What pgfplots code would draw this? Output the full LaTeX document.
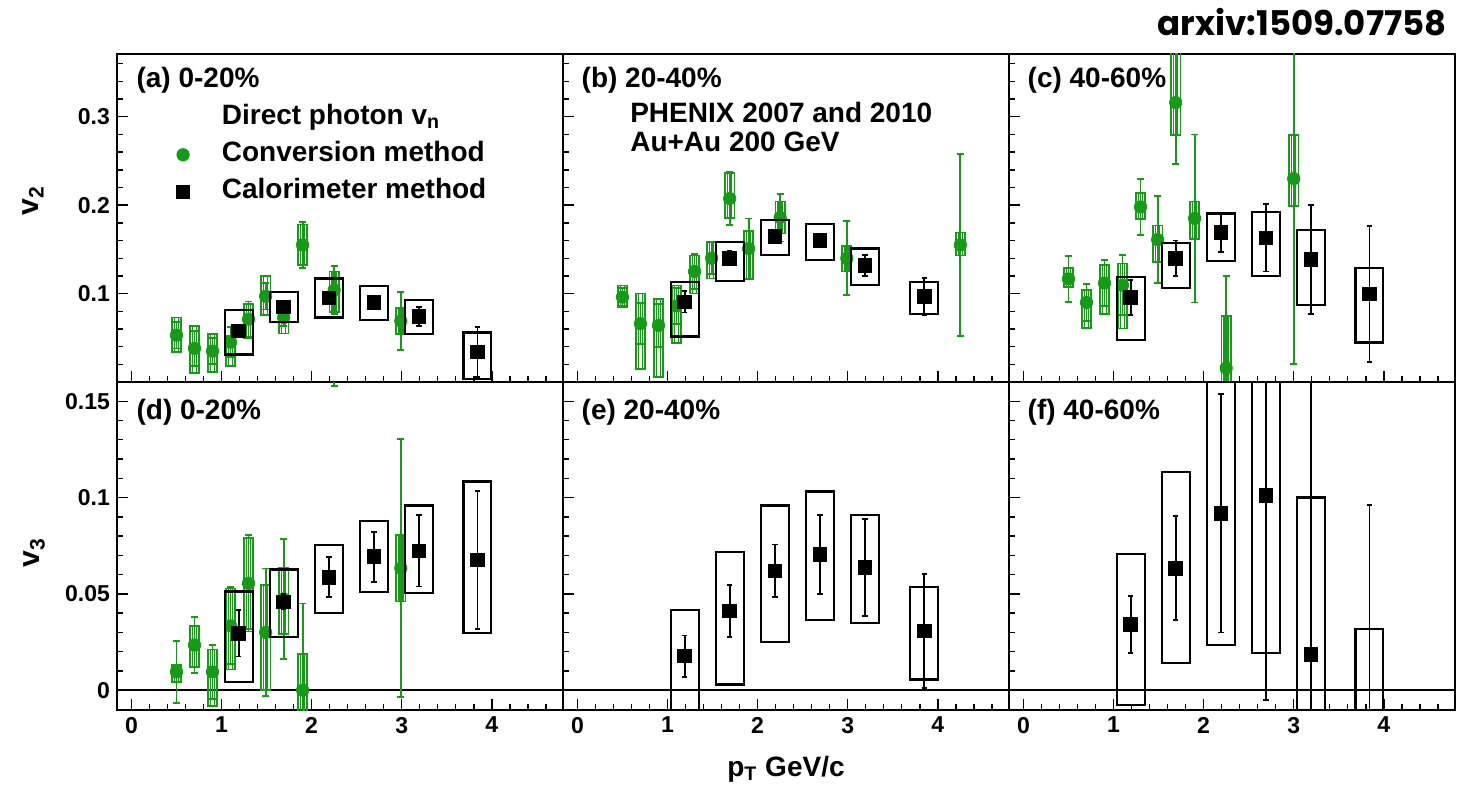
\documentclass[border=0pt]{standalone}
\usepackage{fontspec}
\setmainfont{Liberation Sans}
\newfontfamily\arxfont{Poppins}
\usepackage{pgfplots}
\usepackage{pgfplotstable}
\usepgfplotslibrary{groupplots}
\pgfplotsset{compat=1.18}

\definecolor{cgreen}{RGB}{22,155,22}
\newcommand{\lab}{\fontsize{14}{16}\selectfont\bfseries}

% columns: pT, value, stat error, sys error up, sys error down
\pgfplotstableread{
x y e sp sm
0.50 0.053 0.015 0.020 0.019
0.70 0.038 0.020 0.025 0.028
0.90 0.035 0.015 0.019 0.024
1.10 0.045 0.017 0.007 0.027
1.30 0.071 0.020 0.017 0.021
1.49 0.097 0.015 0.023 0.021
1.69 0.073 0.010 0.009 0.018
1.90 0.155 0.026 0.023 0.023
2.25 0.104 0.027 0.021 0.025
2.99 0.069 0.033 0.015 0.015
}\convA
\pgfplotstableread{
x y e sp sm
1.19 0.058 0.005 0.023 0.027
1.69 0.085 0.005 0.017 0.017
2.19 0.095 0.005 0.022 0.022
2.69 0.090 0.004 0.019 0.020
3.19 0.074 0.011 0.019 0.020
3.84 0.034 0.028 0.022 0.031
}\caloA
\pgfplotstableread{
x y e sp sm
0.50 0.096 0.010 0.013 0.011
0.70 0.066 0.023 0.034 0.051
0.90 0.064 0.024 0.030 0.058
1.10 0.086 0.020 0.023 0.042
1.30 0.125 0.020 0.018 0.025
1.49 0.140 0.018 0.018 0.023
1.69 0.2075 0.030 0.029 0.022
1.90 0.151 0.034 0.020 0.035
2.25 0.186 0.027 0.018 0.018
2.99 0.140 0.042 0.014 0.015
4.25 0.155 0.103 0.014 0.012
}\convB
\pgfplotstableread{
x y e sp sm
1.19 0.0905 0.012 0.023 0.039
1.69 0.140 0.008 0.018 0.026
2.19 0.165 0.005 0.018 0.021
2.69 0.160 0.004 0.019 0.022
3.19 0.132 0.012 0.019 0.022
3.85 0.097 0.021 0.016 0.020
}\caloB
\pgfplotstableread{
x y e sp sm
0.50 0.1166 0.026 0.0125 0.009
0.70 0.090 0.021 0.014 0.029
0.90 0.112 0.026 0.020 0.035
1.10 0.1094 0.034 0.0245 0.049
1.30 0.198 0.032 0.016 0.014
1.49 0.161 0.049 0.016 0.025
1.69 0.316 0.069 0.060 0.037
1.90 0.185 0.095 0.019 0.023
2.25 0.0158 0.104 0.0585 0.023
3.00 0.230 0.210 0.049 0.031
}\convC
\pgfplotstableread{
x y e sp sm
1.19 0.0958 0.020 0.023 0.048
1.69 0.140 0.020 0.017 0.034
2.19 0.169 0.022 0.0215 0.032
2.69 0.163 0.038 0.029 0.043
3.19 0.1385 0.062 0.033 0.051
3.84 0.0996 0.077 0.029 0.055
}\caloC
\pgfplotstableread{
x y e sp sm
0.50 0.0095 0.016 0.0035 0.0052
0.70 0.0234 0.0144 0.010 0.0113
0.90 0.0095 0.014 0.0116 0.0178
1.10 0.0334 0.020 0.0194 0.0227
1.30 0.0555 0.025 0.0234 0.0237
1.49 0.030 0.0332 0.0246 0.030
1.69 0.0473 0.031 0.0163 0.018
1.90 0.0 0.045 0.0187 0.020
2.25 0.25 0.092 0.02 0.02
2.99 0.0633 0.067 0.0173 0.0173
}\convD
\pgfplotstableread{
x y e sp sm
1.19 0.0295 0.012 0.0217 0.0254
1.69 0.0459 0.004 0.0168 0.0182
2.19 0.0586 0.0104 0.0168 0.0184
2.69 0.0693 0.013 0.0185 0.0182
3.19 0.0723 0.0185 0.0236 0.0220
3.84 0.0676 0.0357 0.0407 0.0381
}\caloD
\pgfplotstableread{
x y e sp sm
1.19 0.0177 0.0107 0.024 0.032
1.69 0.0412 0.0134 0.0307 0.0383
2.19 0.0619 0.0137 0.034 0.0367
2.69 0.0705 0.0204 0.0326 0.0341
3.19 0.0636 0.0251 0.0274 0.0286
3.85 0.0308 0.0297 0.0229 0.0253
}\caloE
\pgfplotstableread{
x y e sp sm
1.19 0.0341 0.0147 0.0366 0.0419
1.69 0.0633 0.027 0.0499 0.0494
2.19 0.0919 0.062 0.0685 0.0685
2.69 0.101 0.106 0.080 0.0815
3.19 0.0185 0.200 0.0815 0.040
3.84 -0.030 0.126 0.0617 0.060
}\caloF

% vertical sides of the systematic boxes (#1 table, #2 x offset, #3 colour, #4 width)
\newcommand{\vside}[4]{%
  \addplot[draw=none, mark=none, forget plot,
    error bars/.cd, y dir=both, y explicit, error mark=none,
    error bar style={draw=#3, line width=#4, line cap=rect}]
    table[x expr=\thisrow{x}+#2, y=y, y error plus=sp, y error minus=sm] {#1};}
\newcommand{\hside}[5]{%
  \addplot[draw=none, mark=none, forget plot,
    error bars/.cd, x dir=both, x fixed=#2, error mark=none,
    error bar style={draw=#3, line width=#4, line cap=rect}]
    table[x=x, y expr=\thisrow{y}#5] {#1};}
% full systematic box (#1 table, #2 half width, #3 colour, #4 width)
\newcommand{\sysbox}[4]{%
  \vside{#1}{-#2}{#3}{#4}\vside{#1}{#2}{#3}{#4}%
  \hside{#1}{#2}{#3}{#4}{+\thisrow{sp}}\hside{#1}{#2}{#3}{#4}{-\thisrow{sm}}}
\newcommand{\conv}[1]{%
  \sysbox{#1}{0.052}{cgreen}{0.85pt}%
  \vside{#1}{-0.022}{cgreen}{0.7pt}\vside{#1}{0.022}{cgreen}{0.7pt}%
  \addplot[cgreen, only marks, mark=*, mark size=3.1pt, mark options={fill=cgreen}, forget plot,
    error bars/.cd, y dir=both, y explicit, error mark=-,
    error bar style={cgreen, line width=0.9pt},
    error mark options={rotate=90, cgreen, line width=0.9pt, mark size=1.8pt}]
    table[x=x, y=y, y error=e] {#1};}
\newcommand{\calo}[1]{%
  \sysbox{#1}{0.155}{black}{1.1pt}%
  \addplot[black, only marks, mark=square*, mark size=3.4pt, forget plot,
    error bars/.cd, y dir=both, y explicit, error mark=-,
    error bar style={black, line width=0.9pt},
    error mark options={rotate=90, black, line width=0.9pt, mark size=1.4pt}]
    table[x=x, y=y, y error=e] {#1};}
\newcommand{\zeroline}{\addplot[black, line width=0.8pt, forget plot] coordinates {(-0.5,0) (5,0)};}

\pgfplotsset{
  toprow/.style={ymin=0, ymax=0.371, ytick={0.1,0.2,0.3}, minor ytick={0,0.02,...,0.37}, xticklabels={}},
  botrow/.style={ymin=-0.0103, ymax=0.16, ytick={0,0.05,0.1,0.15}, minor ytick={-0.01,0,...,0.16},
    xticklabels={0,1,2,3,4}},
}

\begin{document}
\begin{tikzpicture}
\begin{groupplot}[
  group style={group size=3 by 2, horizontal sep=0pt, vertical sep=0pt},
  scale only axis, width=223pt, height=164pt,
  xmin=-0.16, xmax=4.79,
  xtick={0,1,2,3,4}, minor xtick={0,0.2,...,4.8},
  xtick pos=lower, ytick pos=lower, tick align=inside,
  major tick length=5.5pt, minor tick length=2.8pt,
  axis line style={line width=1.2pt},
  tick style={black, line width=0.7pt},
  tick label style={font=\fontsize{11.5}{13}\selectfont\bfseries},
  /pgf/number format/assume math mode=true,
  scaled y ticks=false,
  clip marker paths=true,
]
\nextgroupplot[toprow, yticklabels={0.1,0.2,0.3},
  legend cell align=left,
  legend style={draw=none, fill=none, at={(rel axis cs:0.109,0.86)}, anchor=north west,
    font=\lab, inner sep=0pt, row sep=1pt, nodes={inner sep=2pt, text height=10pt, text depth=3.5pt},
    /tikz/every odd column/.append style={column sep=14pt}}]
\conv{\convA}
\calo{\caloA}
\addlegendimage{empty legend}\addlegendentry{Direct photon v\textsubscript{n}}
\addlegendimage{only marks, mark=*, mark size=3.1pt, cgreen, mark options={fill=cgreen}}\addlegendentry{Conversion method}
\addlegendimage{only marks, mark=square*, mark size=3.4pt, black}\addlegendentry{Calorimeter method}
\node[anchor=base west, inner sep=0pt, font=\lab] at (rel axis cs:0.043,0.898) {(a) 0-20\%};

\nextgroupplot[toprow, yticklabels={}]
\conv{\convB}
\calo{\caloB}
\node[anchor=base west, inner sep=0pt, font=\lab] at (rel axis cs:0.041,0.898) {(b) 20-40\%};
\node[anchor=base west, inner sep=0pt, font=\lab] at (rel axis cs:0.150,0.790) {PHENIX 2007 and 2010};
\node[anchor=base west, inner sep=0pt, font=\lab] at (rel axis cs:0.150,0.702) {Au+Au 200 GeV};

\nextgroupplot[toprow, yticklabels={}]
\conv{\convC}
\calo{\caloC}
\node[anchor=base west, inner sep=0pt, font=\lab] at (rel axis cs:0.041,0.898) {(c) 40-60\%};

\nextgroupplot[botrow, yticklabels={0,0.05,0.1,0.15}]
\zeroline
\conv{\convD}
\calo{\caloD}
\node[anchor=base west, inner sep=0pt, font=\lab] at (rel axis cs:0.043,0.887) {(d) 0-20\%};

\nextgroupplot[botrow, yticklabels={}]
\zeroline
\calo{\caloE}
\node[anchor=base west, inner sep=0pt, font=\lab] at (rel axis cs:0.041,0.887) {(e) 20-40\%};

\nextgroupplot[botrow, yticklabels={}]
\zeroline
\calo{\caloF}
\node[anchor=base west, inner sep=0pt, font=\lab] at (rel axis cs:0.041,0.887) {(f) 40-60\%};
\end{groupplot}

\node[rotate=90, font=\fontsize{15}{17}\selectfont\bfseries] at ([xshift=-41.8pt, yshift=-73.5pt]group c1r1.north west) {v\textsubscript{2}};
\node[rotate=90, font=\fontsize{15}{17}\selectfont\bfseries] at ([xshift=-41.3pt, yshift=-249.5pt]group c1r1.north west) {v\textsubscript{3}};
\node[anchor=base, font=\lab] at ([yshift=-33pt]group c2r2.south) {p\textsubscript{T} GeV/c};
\node[anchor=base east, inner sep=0pt, font={\arxfont\bfseries\fontsize{17}{20}\selectfont}] at ([xshift=-4pt, yshift=9pt]group c3r1.north east) {arxiv:1509.07758};
\path ([xshift=-58.5pt, yshift=27pt]group c1r1.north west) rectangle ++(741pt,-395pt);
\end{tikzpicture}
\end{document}
